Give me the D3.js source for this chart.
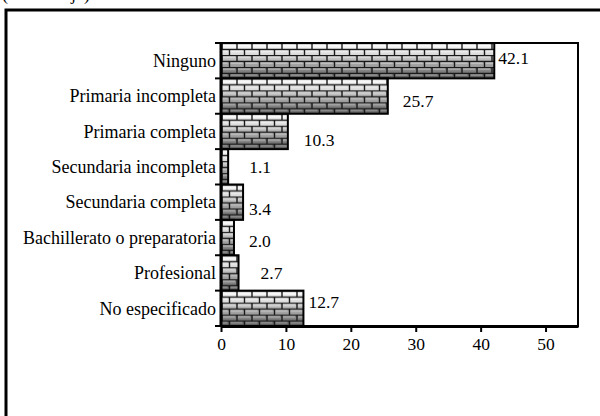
<!DOCTYPE html>
<html>
<head>
<meta charset="utf-8">
<script src="https://cdn.jsdelivr.net/npm/d3@7"></script>
<style>
  body { margin: 0; background: #fff; }
  svg { display: block; }
</style>
</head>
<body>
<svg width="600" height="416" font-family="Liberation Serif"></svg>
<script>
const categories = [
  "Ninguno",
  "Primaria incompleta",
  "Primaria completa",
  "Secundaria incompleta",
  "Secundaria completa",
  "Bachillerato o preparatoria",
  "Profesional",
  "No especificado"
];
const values = [42.1, 25.7, 10.3, 1.1, 3.4, 2.0, 2.7, 12.7];
const xTicks = [0, 10, 20, 30, 40, 50];
const title = "(Porcentaje)";

// label nudges, the way the original labels sit
const labelDx = [4, 15, 16, 21, 6, 15, 22, 5];
const labelDy = [-3, 5, 8, 0, 7, 3, 0, -6];

const svg = d3.select("svg"),
  width = +svg.attr("width"),
  height = +svg.attr("height");

const margin = {top: 43, right: 22, bottom: 90, left: 221};

const x = d3.scaleLinear()
  .domain([0, 55])
  .range([margin.left, width - margin.right]);

const y = d3.scaleBand()
  .domain(categories)
  .range([margin.top, height - margin.bottom])
  .padding(0);

const defs = svg.append("defs");

const grad = defs.append("linearGradient")
  .attr("id", "shade")
  .attr("x1", 0).attr("y1", 0)
  .attr("x2", 0).attr("y2", 1);
[[0, "#ffffff"], [0.25, "#e6e6e6"], [0.5, "#b8b8b8"], [0.75, "#8a8a8a"], [1, "#555555"]]
  .forEach(([o, c]) => grad.append("stop").attr("offset", o).attr("stop-color", c));

const bw = 15, bh = 6;
const brick = defs.append("pattern")
  .attr("id", "brick")
  .attr("patternUnits", "userSpaceOnUse")
  .attr("width", bw)
  .attr("height", bh * 2);
brick.append("path")
  .attr("d", `M0,0.5H${bw}M0,${bh + 0.5}H${bw}M1,0V${bh}M${bw / 2 + 1},${bh}V${bh * 2}`)
  .attr("stroke", "#1a1a1a")
  .attr("stroke-width", 1.4)
  .attr("fill", "none");
brick.append("path")
  .attr("d", `M2,2H${bw - 1}M${bw / 2 + 2},${bh + 2}H${bw}M0,${bh + 2}H${bw / 2 - 1}`)
  .attr("stroke", "#fff")
  .attr("stroke-opacity", 0.5)
  .attr("stroke-width", 1)
  .attr("fill", "none");

// outer frame
svg.append("path")
  .attr("d", `M6,${height}V10H${width}`)
  .attr("fill", "none")
  .attr("stroke", "#000")
  .attr("stroke-width", 3);

svg.append("text")
  .attr("x", 2)
  .attr("y", 0)
  .attr("font-size", 18)
  .text(title);

// plot area box
svg.append("rect")
  .attr("x", x(0))
  .attr("y", margin.top)
  .attr("width", x(55) - x(0))
  .attr("height", y.range()[1] - margin.top)
  .attr("fill", "none")
  .attr("stroke", "#000")
  .attr("stroke-width", 2);

const bar = svg.append("g")
  .selectAll("g")
  .data(categories)
  .join("g")
    .attr("transform", d => `translate(${x(0)},${y(d)})`);

bar.append("rect")
  .attr("width", (d, i) => x(values[i]) - x(0))
  .attr("height", y.bandwidth())
  .attr("fill", "url(#shade)");

bar.append("rect")
  .attr("width", (d, i) => x(values[i]) - x(0))
  .attr("height", y.bandwidth())
  .attr("fill", "url(#brick)");

bar.append("rect")
  .attr("width", (d, i) => x(values[i]) - x(0))
  .attr("height", y.bandwidth())
  .attr("fill", "none")
  .attr("stroke", "#000")
  .attr("stroke-width", 2);

svg.append("g")
  .attr("font-size", 17.5)
  .selectAll("text")
  .data(categories)
  .join("text")
    .attr("x", (d, i) => x(values[i]) + labelDx[i])
    .attr("y", (d, i) => y(d) + y.bandwidth() / 2 + labelDy[i])
    .attr("dy", "0.35em")
    .text((d, i) => values[i].toFixed(1));

// y axis
const yAxis = svg.append("g")
  .attr("transform", `translate(${x(0)},0)`);
yAxis.append("line")
  .attr("y1", margin.top)
  .attr("y2", y.range()[1])
  .attr("stroke", "#000")
  .attr("stroke-width", 3);
yAxis.selectAll("line.tick")
  .data(categories.concat([null]))
  .join("line")
    .attr("class", "tick")
    .attr("x1", -6)
    .attr("x2", 0)
    .attr("y1", (d, i) => margin.top + i * y.step())
    .attr("y2", (d, i) => margin.top + i * y.step())
    .attr("stroke", "#000")
    .attr("stroke-width", 2);
yAxis.selectAll("text")
  .data(categories)
  .join("text")
    .attr("x", -5)
    .attr("y", d => y(d) + y.bandwidth() / 2)
    .attr("dy", "0.35em")
    .attr("text-anchor", "end")
    .attr("font-size", 18)
    .text(d => d);

// x axis
const xAxis = svg.append("g")
  .attr("transform", `translate(0,${y.range()[1]})`)
  .call(d3.axisBottom(x).tickValues(xTicks).tickSize(6).tickSizeOuter(0).tickPadding(6));
xAxis.attr("font-family", "Liberation Serif");
xAxis.select(".domain")
  .attr("stroke-width", 3);
xAxis.selectAll(".tick line")
  .attr("stroke-width", 2);
xAxis.selectAll(".tick text")
  .attr("font-size", 17.5)
  .attr("fill", "#000");
</script>
</body>
</html>
